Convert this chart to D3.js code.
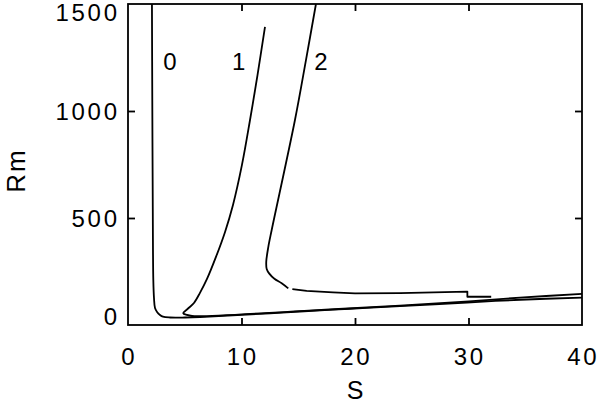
<!DOCTYPE html>
<html>
<head>
<meta charset="utf-8">
<script src="https://cdn.jsdelivr.net/npm/d3@7"></script>
<style>
  html, body { margin: 0; padding: 0; background: #fff; }
  svg { display: block; }
  text { font-family: "Liberation Sans", Arial, sans-serif; fill: #000; }
</style>
</head>
<body>
<svg id="chart" width="600" height="403"></svg>
<script>
// ---- data ----
const xTickValues = [0, 10, 20, 30, 40];
const yTickValues = [0, 500, 1000, 1500];

// curve 0
const curve0S  = [2.11, 2.14, 2.18, 2.23, 2.29, 2.38, 2.56, 2.82, 3.08, 3.70, 5.02, 6.34, 12.51, 15.15, 19.56, 23.96, 29.87, 34.54, 40.0];
const curve0Rm = [1500, 1050, 584, 210, 126, 79, 61, 47, 39, 35, 35, 37, 55, 63, 76, 88, 105, 118, 128];

// curve 1
const curve1S  = [12.07, 11.41, 10.75, 10.04, 9.25, 8.55, 7.75, 6.96, 6.34, 5.81, 5.29, 4.87, 5.20, 5.64, 6.34, 15.15, 23.96, 30.04, 34.54, 40.0];
const curve1Rm = [1393, 1168, 958, 748, 561, 435, 318, 215, 150, 103, 77, 55, 47, 42, 41, 65, 91, 110, 128, 145];

// curve 2, upper branch
const curve2aS  = [16.56, 15.68, 14.71, 12.66, 12.36, 12.18, 12.22, 12.45, 12.90, 13.54, 14.12];
const curve2aRm = [1500, 1238, 958, 444, 364, 295, 262, 240, 216, 195, 171];
// curve 2, lower branch
const curve2bS  = [14.48, 15.74, 18.06, 20.0, 23.96, 29.9, 29.9, 32.0];
const curve2bRm = [168, 159, 152, 148, 149, 156, 132, 132];

const curveLabels = ["0", "1", "2"];
const curveLabelS = [3.7, 9.75, 17.0];
const curveLabelRm = [1230, 1230, 1230];

// ---- layout ----
const svg = d3.select("#chart");
const L = 128, R = 582, T = 4, B = 325;
const x = d3.scaleLinear().domain([0, 40]).range([L, R]);
const y = d3.scaleLinear().domain([0, 1500]).range([B, T]);

const zip = (a, b) => a.map((v, i) => [v, b[i]]);
const smooth = d3.line().x(d => x(d[0])).y(d => y(d[1])).curve(d3.curveCatmullRom.alpha(0.5));
const straight = d3.line().x(d => x(d[0])).y(d => y(d[1]));

const plot = svg.append("g");
plot.append("path").attr("d", smooth(zip(curve0S, curve0Rm)));
plot.append("path").attr("d", smooth(zip(curve1S, curve1Rm)));
plot.append("path").attr("d", smooth(zip(curve2aS, curve2aRm)));
plot.append("path").attr("d", straight(zip(curve2bS, curve2bRm)));
plot.selectAll("path").attr("fill", "none").attr("stroke", "#000")
  .attr("stroke-width", 1.8).attr("stroke-linejoin", "round");

// frame
svg.append("rect").attr("x", L).attr("y", T).attr("width", R - L).attr("height", B - T)
  .attr("fill", "none").attr("stroke", "#000").attr("stroke-width", 1.8);

// inward ticks via d3 axes
const innerX = xTickValues.filter(v => v > 0 && v < 40);
const innerY = yTickValues.filter(v => v > 0 && v < 1500);
function styleAxis(g) {
  g.select(".domain").remove();
  g.selectAll("line").attr("stroke", "#000").attr("stroke-width", 1.8);
}
svg.append("g").attr("transform", `translate(0,${B})`)
  .call(d3.axisBottom(x).tickValues(innerX).tickSize(-7).tickFormat("")).call(styleAxis);
svg.append("g").attr("transform", `translate(0,${T})`)
  .call(d3.axisTop(x).tickValues(innerX).tickSize(-7).tickFormat("")).call(styleAxis);
svg.append("g").attr("transform", `translate(${L},0)`)
  .call(d3.axisLeft(y).tickValues(innerY).tickSize(-7).tickFormat("")).call(styleAxis);
svg.append("g").attr("transform", `translate(${R},0)`)
  .call(d3.axisRight(y).tickValues(innerY).tickSize(-7).tickFormat("")).call(styleAxis);

// tick labels
const FS = 24, LS = 2.7;
svg.append("g").selectAll("text").data(xTickValues).join("text")
  .attr("x", d => x(d) + LS / 2).attr("y", 365)
  .attr("text-anchor", "middle").attr("font-size", FS).attr("letter-spacing", LS)
  .text(d => d);
svg.append("g").selectAll("text").data(yTickValues).join("text")
  .attr("x", 117 + LS).attr("y", d => Math.min(Math.max(y(d) + 8.6, 21.3), 324.6))
  .attr("text-anchor", "end").attr("font-size", FS).attr("letter-spacing", LS)
  .text(d => d);

// axis titles
svg.append("text").attr("x", (L + R) / 2).attr("y", 399).attr("text-anchor", "middle")
  .attr("font-size", 25).text("S");
svg.append("text").attr("transform", `translate(25,${(T + B) / 2 + 6}) rotate(-90)`)
  .attr("text-anchor", "middle").attr("font-size", 26).attr("letter-spacing", 2)
  .text("Rm");

// curve labels
svg.append("g").selectAll("text").data(curveLabels).join("text")
  .attr("x", (d, i) => x(curveLabelS[i])).attr("y", (d, i) => y(curveLabelRm[i]) + 8.6)
  .attr("text-anchor", "middle").attr("font-size", FS).text(d => d);
</script>
</body>
</html>
